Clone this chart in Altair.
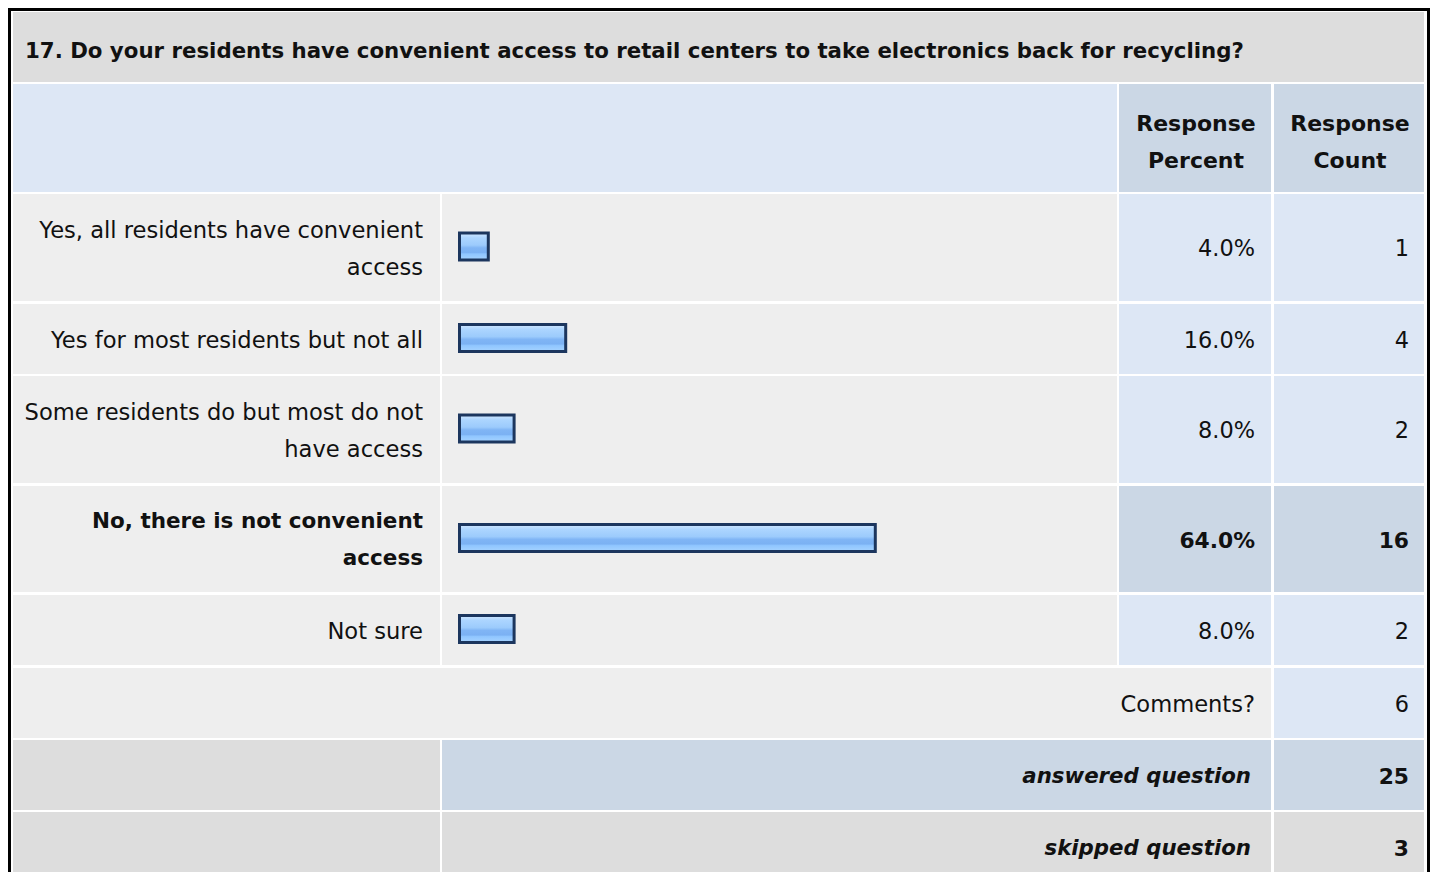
import altair as alt
import pandas as pd

# ---------------- data ----------------
question = "17. Do your residents have convenient access to retail centers to take electronics back for recycling?"
answers = [
    "Yes, all residents have convenient\naccess",
    "Yes for most residents but not all",
    "Some residents do but most do not\nhave access",
    "No, there is not convenient\naccess",
    "Not sure",
]
percents = [4.0, 16.0, 8.0, 64.0, 8.0]
counts = [1, 4, 2, 16, 2]
header_labels = ["Response\nPercent", "Response\nCount"]
comments_label = "Comments?"
comments_count = 6
answered_label = "answered question"
answered_count = 25
skipped_label = "skipped question"
skipped_count = 3

# ---------------- layout ----------------
W, H = 1422, 864
OFF = 8  # page margin: screen -> chart coordinates
FONT = "DejaVu Sans"
LH = 37
TY = 1.5  # small downward nudge of text baselines

C0 = (13, 440)     # answer label column
C1 = (442, 1117)   # bar column
C2 = (1119, 1271)  # percent column
C3 = (1274, 1424)  # count column

LIGHT = "#eeeeee"
GREY = "#dddddd"
BLUE = "#dde7f5"
BLUE2 = "#cbd7e5"
TXT = "#111111"

max_i = percents.index(max(percents))

# row extents (screen coords)
row_heights = [70, 107] + [70 if "\n" not in a else 107 for a in answers] + [70, 70, 70]
rows = []
y = 12.0
for h in row_heights:
    rows.append((round(y), round(y + h)))
    y += h + 2.5
title_r, head_r = rows[0], rows[1]
ans_r = rows[2:2 + len(answers)]
com_r, ansd_r, skip_r = rows[2 + len(answers):]
skip_mid_r = skip_r
skip_r = (skip_r[0], H + OFF + 10)


def mid(r):
    return (r[0] + r[1]) / 2.0


cells = []


def cell(c, r, color):
    cells.append(dict(x=c[0] - OFF, x2=c[1] - OFF, y=r[0] - OFF, y2=r[1] - OFF, color=color))


cell((C0[0], C3[1]), title_r, GREY)
cell((C0[0], C1[1]), head_r, BLUE)
cell(C2, head_r, BLUE2)
cell(C3, head_r, BLUE2)
for i, r in enumerate(ans_r):
    cell(C0, r, LIGHT)
    cell(C1, r, LIGHT)
    cell(C2, r, BLUE2 if i == max_i else BLUE)
    cell(C3, r, BLUE2 if i == max_i else BLUE)
cell((C0[0], C2[1]), com_r, LIGHT)
cell(C3, com_r, BLUE)
cell(C0, ansd_r, GREY)
cell((C1[0], C2[1]), ansd_r, BLUE2)
cell(C3, ansd_r, BLUE2)
cell(C0, skip_r, GREY)
cell((C1[0], C2[1]), skip_r, GREY)
cell(C3, skip_r, GREY)
cells_df = pd.DataFrame(cells)

# texts grouped by style
texts = {k: [] for k in ["title", "head", "lab", "labB", "num", "numB", "ital"]}


def txt(kind, x, yy, t):
    n = t.count("\n")
    texts[kind].append(dict(x=x - OFF, y=yy - OFF - n * LH / 2.0 + TY, t=t))


txt("title", 25, mid(title_r) + 3.5, question)
txt("head", mid(C2) + 1, mid(head_r) + 2.5, header_labels[0])
txt("head", mid(C3) + 1, mid(head_r) + 2.5, header_labels[1])
for i, (a, p, c, r) in enumerate(zip(answers, percents, counts, ans_r)):
    bold = i == max_i
    txt("labB" if bold else "lab", 423, mid(r), a)
    txt("numB" if bold else "num", C2[1] - 16, mid(r), f"{p:.1f}%")
    txt("numB" if bold else "num", C3[1] - 15, mid(r), str(c))
txt("lab", C2[1] - 16, mid(com_r), comments_label)
txt("num", C3[1] - 15, mid(com_r), str(comments_count))
txt("ital", C2[1] - 20, mid(ansd_r), answered_label)
txt("numB", C3[1] - 15, mid(ansd_r), str(answered_count))
txt("ital", C2[1] - 20, mid(skip_mid_r), skipped_label)
txt("numB", C3[1] - 15, mid(skip_mid_r), str(skipped_count))

bars_df = pd.DataFrame(dict(
    answer=answers,
    pct=percents,
    zero=[0.0] * len(answers),
    y=[mid(r) - 1 - 13.5 - OFF for r in ans_r],
    y2=[mid(r) - 1 + 13.5 - OFF for r in ans_r],
))

# ---------------- chart ----------------
xs = alt.Scale(domain=[0, W], range=[0, W])
ys = alt.Scale(domain=[0, H], range=[0, H])

cells_layer = alt.Chart(cells_df).mark_rect(strokeWidth=0).encode(
    x=alt.X("x:Q", scale=xs, axis=None),
    x2="x2:Q",
    y=alt.Y("y:Q", scale=ys, axis=None),
    y2="y2:Q",
    fill=alt.Fill("color:N", scale=None),
)

border_df = pd.DataFrame([dict(x=1.5, x2=W - 1.5, y=1.5, y2=H + 20)])
border_layer = alt.Chart(border_df).mark_rect(
    fillOpacity=0, stroke="#000000", strokeWidth=3
).encode(
    x=alt.X("x:Q", scale=xs, axis=None), x2="x2:Q",
    y=alt.Y("y:Q", scale=ys, axis=None), y2="y2:Q",
)

gradient = {
    "gradient": "linear", "x1": 0, "y1": 0, "x2": 0, "y2": 1,
    "stops": [
        {"offset": 0.0, "color": "#d2e8ff"},
        {"offset": 0.18, "color": "#acd5ff"},
        {"offset": 0.45, "color": "#9ccbfc"},
        {"offset": 0.55, "color": "#80b5f5"},
        {"offset": 0.72, "color": "#7bb1f3"},
        {"offset": 0.78, "color": "#90c6ff"},
        {"offset": 1.0, "color": "#a6d3ff"},
    ],
}
bar_scale = alt.Scale(domain=[0, 100], range=[454.5, 1099.5])
bars_layer = alt.Chart(bars_df).mark_rect(
    fill=gradient, stroke="#1c365e", strokeWidth=3, xOffset=-3
).encode(
    x=alt.X("zero:Q", scale=bar_scale, axis=None),
    x2="pct:Q",
    y=alt.Y("y:Q", scale=ys, axis=None),
    y2="y2:Q",
)


def text_layer(kind, align, size, weight="normal", style="normal"):
    df = pd.DataFrame(texts[kind])
    return alt.Chart(df).mark_text(
        align=align, baseline="middle", font=FONT, fontSize=size,
        fontWeight=weight, fontStyle=style, color=TXT,
        lineBreak="\n", lineHeight=LH,
    ).encode(
        x=alt.X("x:Q", scale=xs, axis=None),
        y=alt.Y("y:Q", scale=ys, axis=None),
        text="t:N",
    )


layers = [
    cells_layer,
    border_layer,
    bars_layer,
    text_layer("title", "left", 21.3, "bold"),
    text_layer("head", "center", 22, "bold"),
    text_layer("lab", "right", 22.6),
    text_layer("labB", "right", 21.5, "bold"),
    text_layer("num", "right", 22.4),
    text_layer("numB", "right", 21.8, "bold"),
    text_layer("ital", "right", 21.3, "bold", "italic"),
]

chart = alt.layer(*layers).resolve_scale(x="independent").properties(
    width=W, height=H, padding=0, background="#ffffff",
    autosize=alt.AutoSizeParams(type="none"),
).configure_view(stroke=None)

chart.save("out.html", embed_options={"renderer": "svg", "actions": False})
